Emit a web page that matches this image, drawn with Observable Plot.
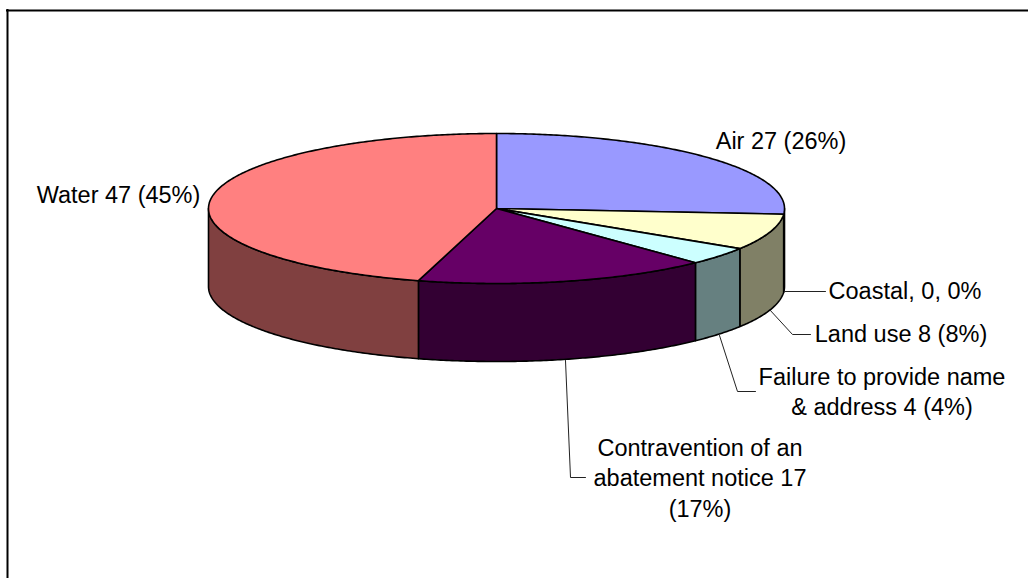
<!DOCTYPE html>
<html>
<head>
<meta charset="utf-8">
<script src="https://cdn.jsdelivr.net/npm/d3@7"></script>
<script src="https://cdn.jsdelivr.net/npm/@observablehq/plot@0.6"></script>
<style>html,body{margin:0;padding:0;background:#fff}svg{display:block}</style>
</head>
<body>
<div id="chart"></div>
<script>
const categories = ["Air", "Coastal", "Land use", "Failure to provide name & address", "Contravention of an abatement notice", "Water"];
const counts = [27, 0, 8, 4, 17, 47];
const topColors = ["#9999FF", "#FFFF99", "#FFFFCC", "#CCFFFF", "#660066", "#FF8080"];
const sideColors = ["#4D4D80", "#80804D", "#808066", "#668080", "#330033", "#804040"];
const labelLines = [
  ["Air 27 (26%)"],
  ["Coastal, 0, 0%"],
  ["Land use 8 (8%)"],
  ["Failure to provide name", "& address 4 (4%)"],
  ["Contravention of an", "abatement notice 17", "(17%)"],
  ["Water 47 (45%)"]
];

// Layout of the drawing (pixels of the 1028x578 frame)
const W = 1028, H = 578;
const pie = {cx: 496, cy: 208, rx: 288, ry: 75, depth: 78};
const labelPos = [[780.5, 141], [904.5, 291], [900.5, 334], [881.5, 376.5], [699.5, 447.5], [118, 195]];
const leaders = [null, [[784, 291], [825, 291]], [[769, 309], [792, 334], [810, 334]], [[719, 335], [737, 391], [755, 391]], [[565, 360], [570, 477], [585, 477]], null];
const lineHeight = 30.5;

const total = d3.sum(counts);
let running = 0;
const slices = counts.map((v, i) => {
  const a0 = running / total * 2 * Math.PI;
  running += v;
  return {i, a0, a1: running / total * 2 * Math.PI};
});
const px = (a, r = 1) => pie.cx + pie.rx * r * Math.sin(a);
const py = (a, r = 1) => pie.cy - pie.ry * r * Math.cos(a);
function arc(a0, a1, dy = 0) {
  const n = Math.max(2, Math.ceil((a1 - a0) / 0.01));
  return d3.range(n + 1).map(k => {
    const a = a0 + (a1 - a0) * k / n;
    return {x: px(a), y: py(a) + dy};
  });
}
const topFace = s => [{x: pie.cx, y: pie.cy}, ...arc(s.a0, s.a1), {x: pie.cx, y: pie.cy}];
function sideFace(s) {
  const a0 = Math.max(s.a0, Math.PI / 2), a1 = Math.min(s.a1, 3 * Math.PI / 2);
  if (a1 <= a0) return null;
  const up = arc(a0, a1), down = arc(a0, a1, pie.depth).reverse();
  return [...up, ...down, up[0]];
}
const faceOpts = fill => ({x: "x", y: "y", fill, stroke: "#000", strokeWidth: 1.6, strokeLinejoin: "round", curve: "linear"});

const marks = [];
slices.filter(s => s.a1 > s.a0).forEach(s => {
  const f = sideFace(s);
  if (f) marks.push(Plot.line(f, faceOpts(sideColors[s.i])));
});
slices.filter(s => s.a1 > s.a0).forEach(s => {
  marks.push(Plot.line(topFace(s), faceOpts(topColors[s.i])));
});
leaders.forEach(l => {
  if (l) marks.push(Plot.line(l, {x: d => d[0], y: d => d[1], stroke: "#222", strokeWidth: 1}));
});
const labelRows = labelLines.flatMap((lines, i) => lines.map((t, k) => ({
  t,
  x: labelPos[i][0],
  y: labelPos[i][1] + k * lineHeight
})));
marks.push(Plot.text(labelRows, {x: "x", y: "y", text: "t", fill: "#000", textAnchor: "middle", lineAnchor: "middle", fontSize: 23.5, fontFamily: "Liberation Sans"}));
// Chart frame
marks.push(Plot.ruleY([10], {x1: 6, x2: W, stroke: "#000", strokeWidth: 2}));
marks.push(Plot.ruleX([7], {y1: 9, y2: H, stroke: "#000", strokeWidth: 2}));

const chart = Plot.plot({
  width: W, height: H, margin: 0,
  x: {domain: [0, W], range: [0, W], axis: null},
  y: {domain: [0, H], range: [0, H], axis: null},
  style: {background: "#fff", fontFamily: "Liberation Sans"},
  marks
});
document.getElementById("chart").append(chart);
</script>
</body>
</html>
